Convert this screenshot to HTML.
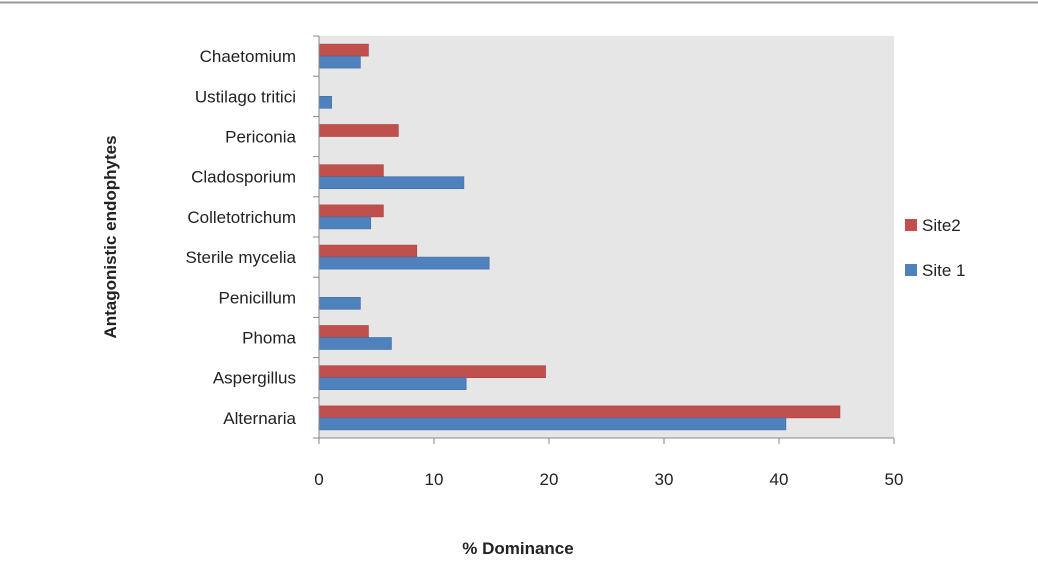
<!DOCTYPE html>
<html><head><meta charset="utf-8"><style>
body{margin:0;background:#fff;width:1038px;height:576px;overflow:hidden;font-family:"Liberation Sans",sans-serif}
</style></head><body>
<svg id="c" width="1038" height="576" xmlns="http://www.w3.org/2000/svg">
<line x1="0" y1="2.5" x2="1038" y2="2.5" stroke="#999" stroke-width="2"/>
<rect x="319" y="36" width="575" height="402" fill="#e6e6e6"/>
<g id="bars"></g><g id="axes"></g>
<text x="116" y="237" transform="rotate(-90 116 237)" text-anchor="middle" font-size="17" font-weight="bold" fill="#222">Antagonistic endophytes</text>
<text x="518" y="554" text-anchor="middle" font-size="17" font-weight="bold" fill="#222">% Dominance</text>
<g>
<rect x="905" y="219" width="12" height="12" fill="#c0504d"/>
<text x="922" y="231" font-size="17" fill="#222">Site2</text>
<rect x="905" y="264" width="12" height="12" fill="#4f81bd"/>
<text x="922" y="276" font-size="17" fill="#222">Site 1</text>
</g>
</svg>
<script>
const categories=["Alternaria","Aspergillus","Phoma","Penicillum","Sterile mycelia","Colletotrichum","Cladosporium","Periconia","Ustilago tritici","Chaetomium"];
const site2=[45.3,19.7,4.3,0,8.5,5.6,5.6,6.9,0,4.3];
const site1=[40.6,12.8,6.3,3.6,14.8,4.5,12.6,0,1.1,3.6];
const xTicks=[0,10,20,30,40,50];
const NS="http://www.w3.org/2000/svg";
const X0=319,X1=894,Y0=36,Y1=438,XMAX=50;
const x=v=>X0+v/XMAX*(X1-X0);
const band=(Y1-Y0)/categories.length;
const yc=i=>Y1-(i+0.5)*band;
function mk(t,a,p){const e=document.createElementNS(NS,t);for(const k in a)e.setAttribute(k,a[k]);p.appendChild(e);return e;}
const bars=document.getElementById('bars'),axes=document.getElementById('axes');
categories.forEach((c,i)=>{
 const y=yc(i);
 if(site2[i]>0){const r=mk('rect',{x:X0,y:y-12,width:x(site2[i])-X0,height:12,fill:'#c0504d',stroke:'#a8403d','stroke-width':0.6},bars);
 
 }
 if(site1[i]>0){const r=mk('rect',{x:X0,y:y,width:x(site1[i])-X0,height:12,fill:'#4f81bd',stroke:'#3d6ea5','stroke-width':0.6},bars);
 
 }
 const t=mk('text',{x:296,y:y+6,'text-anchor':'end','font-size':17,fill:'#222'},axes);t.textContent=c;
 
 
});
for(let i=0;i<=categories.length;i++){const yy=Y1-i*band;const l=mk('line',{x1:X0-6,x2:X0,y1:yy,y2:yy,stroke:'#888'},axes);
 
 }
const ya=mk('line',{x1:X0,x2:X0,y1:Y0,y2:Y1,stroke:'#888'},axes);


const xa=mk('line',{x1:X0,x2:X1,y1:Y1,y2:Y1,stroke:'#888'},axes);


xTicks.forEach(v=>{const l=mk('line',{x1:x(v),x2:x(v),y1:Y1,y2:Y1+6,stroke:'#888'},axes);
 
 
 const t=mk('text',{x:x(v),y:Y1+47,'text-anchor':'middle','font-size':17,fill:'#222'},axes);t.textContent=v;
 
 });
</script>
</body></html>
